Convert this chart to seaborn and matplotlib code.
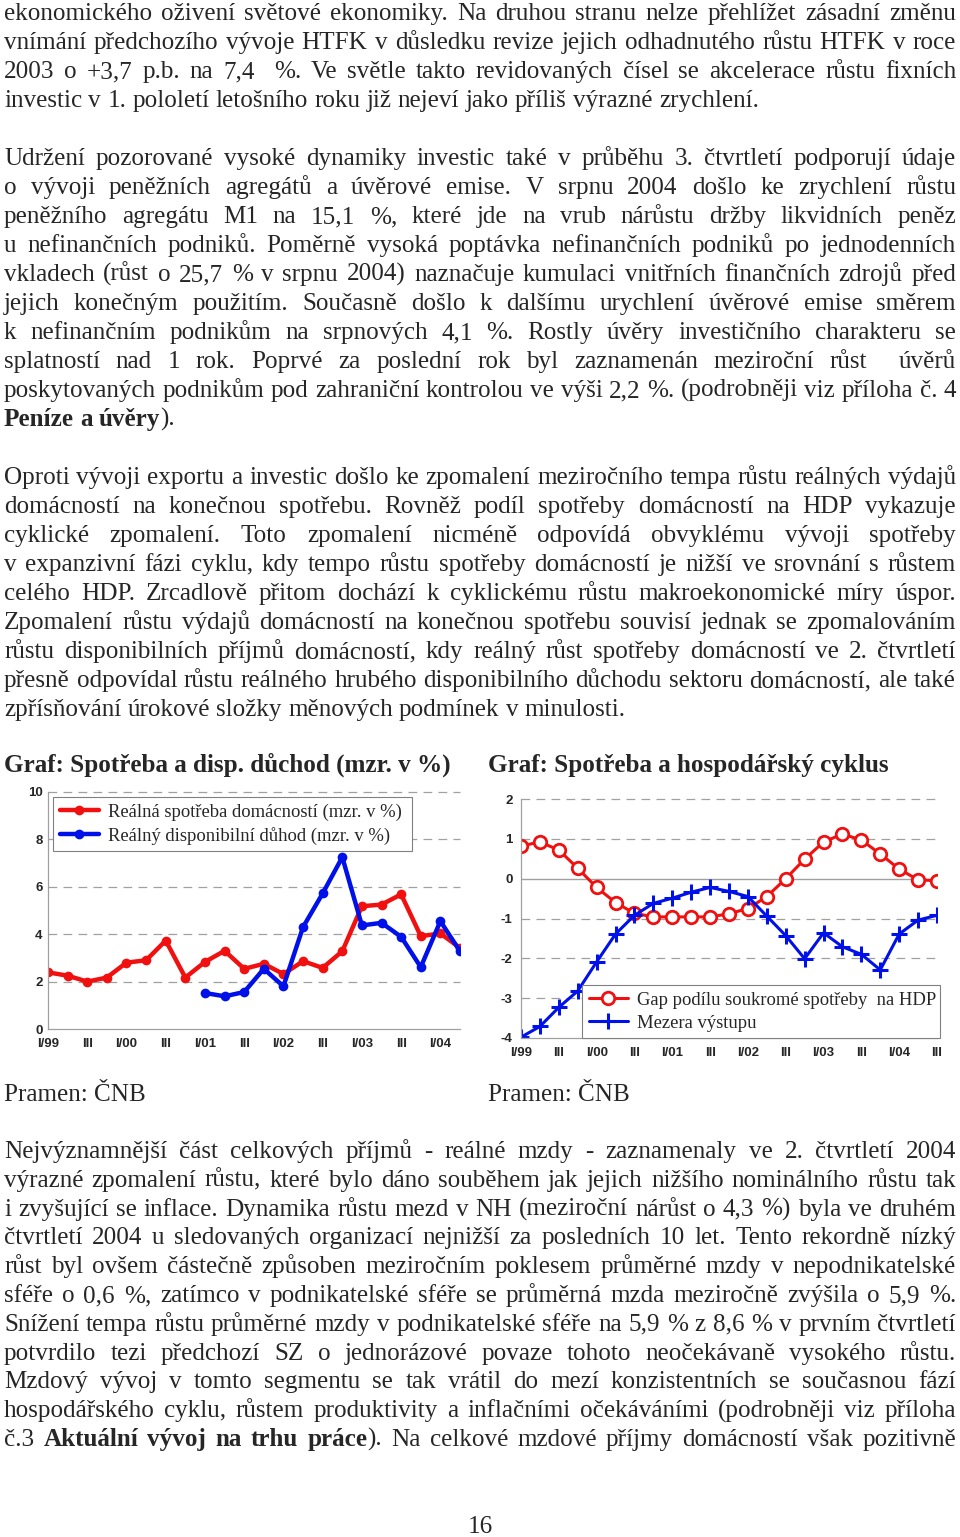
import matplotlib
matplotlib.use("Agg")
import matplotlib.pyplot as plt
import pandas as pd
import seaborn as sns

W, H = 960, 1537
SERIF = "Liberation Serif"
SANS = "Liberation Sans"
RED = "#f01010"
BLUE = "#0010e8"
GRID = "#a0a0a0"

# left chart: y/y growth in %, quarters counted from I/99
q_spotreba = list(range(0, 22))
spotreba = [2.39, 2.25, 2.0, 2.17, 2.8, 2.9, 3.73, 2.17, 2.83, 3.3, 2.54,
            2.75, 2.32, 2.86, 2.58, 3.28, 5.18, 5.25, 5.68, 3.92, 4.03, 3.42]
q_duchod = list(range(8, 22))
duchod = [1.52, 1.38, 1.56, 2.54, 1.80, 4.30, 5.72, 7.25, 4.37, 4.48, 3.89,
          2.61, 4.55, 3.28]
left_ticks = ["I/99", "III", "I/00", "III", "I/01", "III", "I/02", "III",
              "I/03", "III", "I/04"]

# right chart: gap of private consumption share, output gap (I/99 .. III/04)
q_cyklus = list(range(0, 23))
gap = [0.82, 0.92, 0.72, 0.26, -0.22, -0.6, -0.87, -0.96, -0.96, -0.96, -0.96,
       -0.88, -0.75, -0.45, 0.0, 0.49, 0.92, 1.12, 0.97, 0.62, 0.24, -0.03, -0.05]
mezera = [-3.98, -3.71, -3.23, -2.82, -2.09, -1.39, -0.92, -0.62, -0.49, -0.34,
          -0.22, -0.32, -0.45, -0.94, -1.43, -2.01, -1.36, -1.71, -1.90, -2.29,
          -1.39, -1.04, -0.92]
right_ticks = left_ticks + ["III"]

para1 = [
    "ekonomického oživení světové ekonomiky. Na druhou stranu nelze přehlížet zásadní změnu",
    "vnímání předchozího vývoje HTFK v důsledku revize jejich odhadnutého růstu HTFK v roce",
    "2003 o +3,7 p.b. na 7,4  %. Ve světle takto revidovaných čísel se akcelerace růstu fixních",
    "investic v 1. pololetí letošního roku již nejeví jako příliš výrazné zrychlení.",
]
para2 = [
    "Udržení pozorované vysoké dynamiky investic také v průběhu 3. čtvrtletí podporují údaje",
    "o vývoji peněžních agregátů a úvěrové emise. V srpnu 2004 došlo ke zrychlení růstu",
    "peněžního agregátu M1 na 15,1 %, které jde na vrub nárůstu držby likvidních peněz",
    "u nefinančních podniků. Poměrně vysoká poptávka nefinančních podniků po jednodenních",
    "vkladech (růst o 25,7 % v srpnu 2004) naznačuje kumulaci vnitřních finančních zdrojů před",
    "jejich konečným použitím. Současně došlo k dalšímu urychlení úvěrové emise směrem",
    "k nefinančním podnikům na srpnových 4,1 %. Rostly úvěry investičního charakteru se",
    "splatností nad 1 rok. Poprvé za poslední rok byl zaznamenán meziroční růst  úvěrů",
    "poskytovaných podnikům pod zahraniční kontrolou ve výši 2,2 %. (podrobněji viz příloha č. 4",
    "**Peníze a úvěry**).",
]
para3 = [
    "Oproti vývoji exportu a investic došlo ke zpomalení meziročního tempa růstu reálných výdajů",
    "domácností na konečnou spotřebu. Rovněž podíl spotřeby domácností na HDP vykazuje",
    "cyklické zpomalení. Toto zpomalení nicméně odpovídá obvyklému vývoji spotřeby",
    "v expanzivní fázi cyklu, kdy tempo růstu spotřeby domácností je nižší ve srovnání s růstem",
    "celého HDP. Zrcadlově přitom dochází k cyklickému růstu makroekonomické míry úspor.",
    "Zpomalení růstu výdajů domácností na konečnou spotřebu souvisí jednak se zpomalováním",
    "růstu disponibilních příjmů domácností, kdy reálný růst spotřeby domácností ve 2. čtvrtletí",
    "přesně odpovídal růstu reálného hrubého disponibilního důchodu sektoru domácností, ale také",
    "zpřísňování úrokové složky měnových podmínek v minulosti.",
]
para4 = [
    "Nejvýznamnější část celkových příjmů - reálné mzdy - zaznamenaly ve 2. čtvrtletí 2004",
    "výrazné zpomalení růstu, které bylo dáno souběhem jak jejich nižšího nominálního růstu tak",
    "i zvyšující se inflace. Dynamika růstu mezd v NH (meziroční nárůst o 4,3 %) byla ve druhém",
    "čtvrtletí 2004 u sledovaných organizací nejnižší za posledních 10 let. Tento rekordně nízký",
    "růst byl ovšem částečně způsoben meziročním poklesem průměrné mzdy v nepodnikatelské",
    "sféře o 0,6 %, zatímco v podnikatelské sféře se průměrná mzda meziročně zvýšila o 5,9 %.",
    "Snížení tempa růstu průměrné mzdy v podnikatelské sféře na 5,9 % z 8,6 % v prvním čtvrtletí",
    "potvrdilo tezi předchozí SZ o jednorázové povaze tohoto neočekávaně vysokého růstu.",
    "Mzdový vývoj v tomto segmentu se tak vrátil do mezí konzistentních se současnou fází",
    "hospodářského cyklu, růstem produktivity a inflačními očekáváními (podrobněji viz příloha",
    "č.3 **Aktuální vývoj na trhu práce**). Na celkové mzdové příjmy domácností však pozitivně",
]
title_left = "Graf: Spotřeba a disp. důchod (mzr. v %)"
title_right = "Graf: Spotřeba a hospodářský cyklus"
legend_left = ["Reálná spotřeba domácností (mzr. v %)",
               "Reálný disponibilní důhod (mzr. v %)"]
legend_right = ["Gap podílu soukromé spotřeby  na HDP", "Mezera výstupu"]
source = "Pramen: ČNB"
page_no = "16"

sns.set_style("white")
plt.rcParams["font.family"] = [SANS, "DejaVu Sans"]

fig = plt.figure(figsize=(W / 100, H / 100), dpi=100)
renderer = fig.canvas.get_renderer()


def text_w(s, size, bold=False):
    t = fig.text(0, 0, s, fontsize=size, family=SERIF,
                 fontweight="bold" if bold else "normal")
    w = t.get_window_extent(renderer).width
    t.remove()
    return w


LEFT, RIGHT = 4, 956
body = 10 * 754 / text_w(para1[-1], 10)
tsize = 10 * 449 / text_w(title_left, 10, True)
lsize = 10 * 295 / text_w(legend_left[0], 10)


def draw_line(y, line, size, justify):
    bold = False
    items = []
    for w in line.split(" "):
        pieces = []
        for i, s in enumerate(w.split("**")):
            if i > 0:
                bold = not bold
            if s:
                pieces.append((s, bold))
        items.append(pieces)
    widths = [sum(text_w(s, size, b) for s, b in p) for p in items]
    if justify and len(items) > 1:
        gap_w = (RIGHT - LEFT - sum(widths)) / (len(items) - 1)
    else:
        gap_w = text_w("a a", size) - text_w("aa", size)
    x = LEFT
    for pieces, wd in zip(items, widths):
        xx = x
        for s, b in pieces:
            fig.text(xx / W, 1 - y / H, s, fontsize=size, family=SERIF,
                     fontweight="bold" if b else "normal", va="baseline")
            xx += text_w(s, size, b)
        x += wd + gap_w


def draw_para(y0, lines, step=29, last_justified=False):
    for i, line in enumerate(lines):
        last = i == len(lines) - 1
        draw_line(y0 + i * step, line, body, (not last) or last_justified)


draw_para(20, para1)
draw_para(165, para2)
draw_para(484, para3)
draw_para(1158, para4, step=28.8, last_justified=True)

fig.text(4 / W, 1 - 772 / H, title_left, fontsize=tsize, family=SERIF,
         fontweight="bold", va="baseline")
fig.text(488 / W, 1 - 772 / H, title_right, fontsize=tsize, family=SERIF,
         fontweight="bold", va="baseline")
for xs in (4, 488):
    fig.text(xs / W, 1 - 1101 / H, source, fontsize=body, family=SERIF,
             va="baseline")
fig.text(480 / W, 1 - 1533 / H, page_no, fontsize=body, family=SERIF,
         va="baseline", ha="center")


def px_axes(x0, y0, x1, y1):
    return fig.add_axes([x0 / W, 1 - y1 / H, (x1 - x0) / W, (y1 - y0) / H])


def style_axes(ax, ticks, yticks, grid_lines, ypad):
    ax.set_xticks(range(0, 2 * len(ticks), 2))
    ax.set_xticklabels(ticks, fontsize=9.5, fontweight="bold", family=SANS)
    ax.set_yticks(yticks)
    ax.set_yticklabels([str(v) for v in yticks], fontsize=9.5,
                       fontweight="bold", family=SANS)
    ax.set_xlabel("")
    ax.set_ylabel("")
    for v in grid_lines:
        ax.axhline(v, color=GRID, lw=0.9, ls=(0, (7, 5)), zorder=0, clip_on=False)
    for s in ("top", "right"):
        ax.spines[s].set_visible(False)
    for s in ("left", "bottom"):
        ax.spines[s].set_color(GRID)
        ax.spines[s].set_linewidth(0.9)
    ax.tick_params(axis="x", length=4, width=0.9, color=GRID, pad=2.5)
    ax.tick_params(axis="y", length=0, pad=ypad)


def page_legend(ax, x0, y0, x1, y1):
    leg = ax.legend(loc="upper left",
                    bbox_to_anchor=(x0 / W, 1 - y1 / H, (x1 - x0) / W, (y1 - y0) / H),
                    bbox_transform=fig.transFigure, mode="expand", borderaxespad=0,
                    prop={"family": SERIF, "size": lsize}, frameon=True,
                    fancybox=False, edgecolor="#808080", framealpha=1,
                    handlelength=2.1, handletextpad=0.5, borderpad=0.35,
                    labelspacing=0.32)
    leg.get_frame().set_linewidth(0.8)


# left chart
ax1 = px_axes(48, 792, 460, 1029)
df_s = pd.DataFrame({"q": q_spotreba, "v": spotreba})
df_d = pd.DataFrame({"q": q_duchod, "v": duchod})
sns.lineplot(data=df_s, x="q", y="v", ax=ax1, color=RED, lw=3.2, marker="o",
             markersize=7, mew=0, label=legend_left[0])
sns.lineplot(data=df_d, x="q", y="v", ax=ax1, color=BLUE, lw=3.2, marker="o",
             markersize=7, mew=0, label=legend_left[1])
ax1.set_xlim(0, 21)
ax1.set_ylim(0, 10)
style_axes(ax1, left_ticks, [0, 2, 4, 6, 8, 10], [2, 4, 6, 8, 10], 4)
page_legend(ax1, 53, 797, 412, 851)

# right chart
ax2 = px_axes(521, 799, 937, 1038)
df_g = pd.DataFrame({"q": q_cyklus, "v": gap})
df_m = pd.DataFrame({"q": q_cyklus, "v": mezera})
sns.lineplot(data=df_g, x="q", y="v", ax=ax2, color=RED, lw=2.2, marker="o",
             markersize=9, mfc="white", mec=RED, mew=2, label=legend_right[0])
sns.lineplot(data=df_m, x="q", y="v", ax=ax2, color=BLUE, lw=2.2, marker="+",
             markersize=11, mec=BLUE, mew=2.2, label=legend_right[1])
ax2.set_xlim(0, 22)
ax2.set_ylim(-4, 2)
style_axes(ax2, right_ticks, [-4, -3, -2, -1, 0, 1, 2], [2, 1, -1, -2, -3], 6)
ax2.axhline(0, color=GRID, lw=1.0, zorder=0)
page_legend(ax2, 582, 985, 940, 1037)

fig.savefig("out.png", dpi=100)
